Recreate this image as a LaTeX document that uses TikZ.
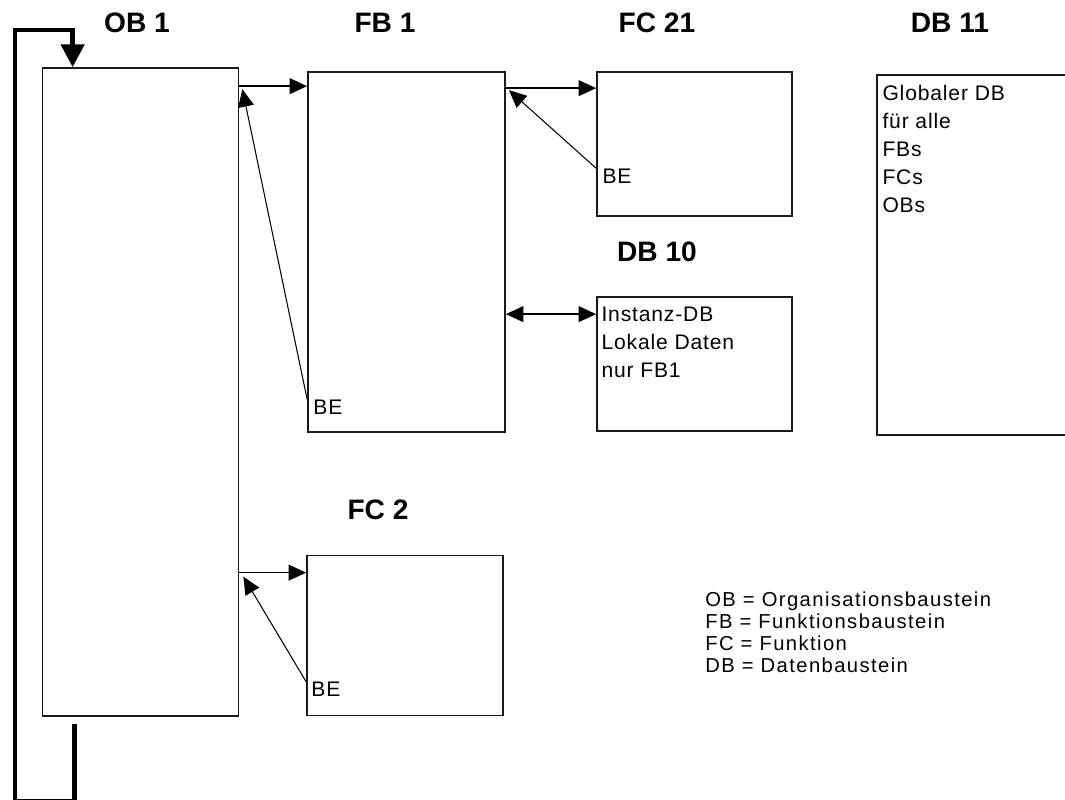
\documentclass[tikz,border=0pt]{standalone}
\usepackage{fontspec}
\setmainfont{Liberation Sans}
\newfontfamily\boxfont[LetterSpace=4]{Liberation Sans}
\newfontfamily\legfont[LetterSpace=7]{Liberation Sans}
\usetikzlibrary{calc,arrows.meta,positioning}
\definecolor{frame}{HTML}{1A1A1A}

\tikzset{
  blk/.style={draw=frame, line width=1pt, rectangle, inner sep=0pt},
  ttl/.style={font=\fontsize{16}{18}\selectfont\bfseries, inner sep=0pt},
  txt/.style={font=\boxfont\fontsize{12}{15.9}\selectfont, inner sep=0pt, align=left},
  legtxt/.style={font=\legfont\fontsize{11.5}{12.5}\selectfont, inner sep=0pt, align=left},
  call/.style={line width=0.9pt, -{Triangle[length=10pt,width=9pt]}},
  ret/.style={line width=0.6pt, -{Triangle[length=10pt,width=9pt]}},
  cyclepath/.style={line width=2.8pt, -{Triangle[length=13pt,width=13pt]}}
}

\begin{document}
\begin{tikzpicture}[x=0.02cm, y=-0.02cm]
\useasboundingbox (0,0) rectangle (1065,800);

% Bausteine
\node[blk, minimum width=3.92cm, minimum height=12.96cm] (ob1) at (140.5,392) {};
\node[blk, minimum width=3.94cm, minimum height=7.2cm] (fb1) at (406.5,252) {};
\node[blk, minimum width=3.9cm, minimum height=2.88cm] (fc21) at (694.5,144) {};
\node[blk, minimum width=3.9cm, minimum height=2.68cm] (db10) at (694.5,364) {};
\node[blk, minimum width=3.96cm, minimum height=7.2cm] (db11) at (976,255) {};
\node[blk, minimum width=3.92cm, minimum height=3.2cm] (fc2) at (405,635.5) {};

\node[ttl] (ob1t) at (137,23) {OB 1};
\node[ttl] (fb1t) at (385,23) {FB 1};
\node[ttl] (fc21t) at (657,23) {FC 21};
\node[ttl] (db11t) at (950,23) {DB 11};
\node[ttl] (db10t) at (657,252) {DB 10};
\node[ttl] (fc2t) at (378,510) {FC 2};

\node[txt, anchor=north west] (db11txt) at ([shift={(6,11)}]db11.north west)
  {Globaler DB\\f\"ur alle\\FBs\\FCs\\OBs};
\node[txt, anchor=north west] (db10txt) at ([shift={(5,11)}]db10.north west)
  {Instanz-DB\\Lokale Daten\\nur FB1};

\node[txt, anchor=west] (be1) at ([shift={(6,-26)}]fb1.south west) {BE};
\node[txt, anchor=west] (be21) at ([shift={(6,-41)}]fc21.south west) {BE};
\node[txt, anchor=west] (be2) at ([shift={(5,-27)}]fc2.south west) {BE};

\node[legtxt, anchor=north west] (legend) at (705,592)
  {OB = Organisationsbaustein\\FB = Funktionsbaustein\\FC = Funktion\\DB = Datenbaustein};

% Aufrufe
\coordinate (fb1in) at ([shift={(0,15)}]fb1.north west);
\coordinate (fc21in) at ([shift={(0,17)}]fc21.north west);
\coordinate (db10in) at ([shift={(0,18)}]db10.north west);
\coordinate (fc2in) at ([shift={(0,18)}]fc2.north west);

\draw[call] (ob1.east |- fb1in) -- (fb1in);
\draw[call] (fb1.east |- fc21in) -- (fc21in);
\draw[call, {Triangle[length=10pt,width=9pt]}-{Triangle[length=10pt,width=9pt]}] (fb1.east |- db10in) -- (db10in);
\draw[call] (ob1.east |- fc2in) -- (fc2in);

% Ruecksprung (BE)
\draw[ret] (fb1.west |- be1.north) -- ($(ob1.east |- fb1in)+(3,3)$);
\draw[ret] (fc21.west |- be21.north) -- ($(fb1.east |- fc21in)+(3,2)$);
\draw[ret] (fc2.west |- be2.north) -- ($(ob1.east |- fc2in)+(4,4)$);

% Zyklus
\coordinate (loopout) at ([shift={(33,7)}]ob1.south west);
\coordinate (loopin) at ([shift={(31,0)}]ob1.north west);
\draw[cyclepath] (loopout) -- ++(0,78) -| (15,30) -| (loopin);
\end{tikzpicture}
\end{document}
